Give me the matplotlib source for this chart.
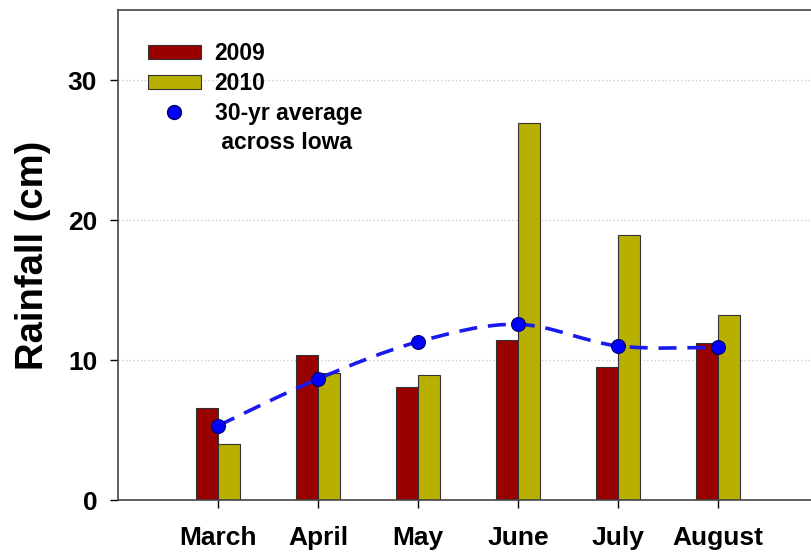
import numpy as np
import matplotlib.pyplot as plt
from matplotlib.path import Path
from matplotlib.patches import PathPatch
from matplotlib.lines import Line2D

plt.rcParams['font.family'] = ['Liberation Sans', 'DejaVu Sans']
plt.rcParams['font.weight'] = 'bold'

#%% data

months = ['March', 'April', 'May', 'June', 'July', 'August']
rain_2009 = [6.55, 10.35, 8.05, 11.45, 9.5, 11.25]
rain_2010 = [4.0, 9.1, 8.95, 26.9, 18.95, 13.25]
avg_30yr = [5.3, 8.65, 11.3, 12.55, 11.0, 10.9]

#%% figure

fig = plt.figure(figsize=(8.11, 5.52), dpi=100)
ax = fig.add_axes([118/811, 52/552, 700/811, 490/552])

xx = np.arange(1, len(months) + 1)
w = 0.22
red = '#990000'
yel = '#b8b000'

ax.bar(xx - w/2, rain_2009, w, color=red, edgecolor='#333333', linewidth=0.8, zorder=2)
ax.bar(xx + w/2, rain_2010, w, color=yel, edgecolor='#333333', linewidth=0.8, zorder=2)

# smooth dashed curve through the averages (Catmull-Rom as cubic Beziers)
pts = np.column_stack([xx, avg_30yr]).astype(float)
ext = np.vstack([pts[0], pts, pts[-1]])
verts = [tuple(pts[0])]
codes = [Path.MOVETO]
for i in range(1, len(ext) - 2):
    p0, p1, p2, p3 = ext[i-1], ext[i], ext[i+1], ext[i+2]
    c1 = p1 + (p2 - p0) / 6
    c2 = p2 - (p3 - p1) / 6
    verts += [tuple(c1), tuple(c2), tuple(p2)]
    codes += [Path.CURVE4] * 3
ax.add_patch(PathPatch(Path(verts, codes), facecolor='none', edgecolor='#1a1aee',
                       linewidth=2.6, linestyle=(0, (5, 3)), zorder=3))
ax.plot(xx, avg_30yr, 'o', color='#0000ff', markeredgecolor='#000066',
        markersize=10, markeredgewidth=0.8, zorder=4)

ax.set_xlim(0, 7)
ax.set_ylim(0, 35)
ax.set_xticks(xx)
ax.set_xticklabels(months, fontsize=19, fontweight='bold')
ax.set_yticks([0, 10, 20, 30])
ax.set_yticklabels(['0', '10', '20', '30'], fontsize=19, fontweight='bold')
ax.tick_params(direction='out', length=6, width=1)
ax.tick_params(axis='y', pad=9)
ax.tick_params(axis='x', pad=13)
ax.set_ylabel('Rainfall (cm)', fontsize=27.5, fontweight='bold', labelpad=12)

for yv in [10, 20, 30]:
    ax.axhline(yv, color='#c8c8c8', linestyle=(0, (1, 2)), linewidth=0.9, zorder=0)

for s in ax.spines.values():
    s.set_color('#444444')
    s.set_linewidth(1.2)

h = [
    plt.Rectangle((0, 0), 1, 1, facecolor=red, edgecolor='#333333', linewidth=0.8),
    plt.Rectangle((0, 0), 1, 1, facecolor=yel, edgecolor='#333333', linewidth=0.8),
    Line2D([], [], marker='o', linestyle='none', color='#0000ff',
           markeredgecolor='#000066', markersize=10),
    Line2D([], [], linestyle='none'),
]
leg = ax.legend(h, ['2009', '2010', '30-yr average', ' across Iowa'],
                loc='upper left', bbox_to_anchor=(0.043, 0.935), frameon=False,
                fontsize=16.5, handlelength=2.3, handleheight=0.57,
                labelspacing=0.3, handletextpad=0.6,
                borderpad=0, borderaxespad=0)
for t in leg.get_texts():
    t.set_fontweight('bold')

fig.savefig('out.png', dpi=100)
